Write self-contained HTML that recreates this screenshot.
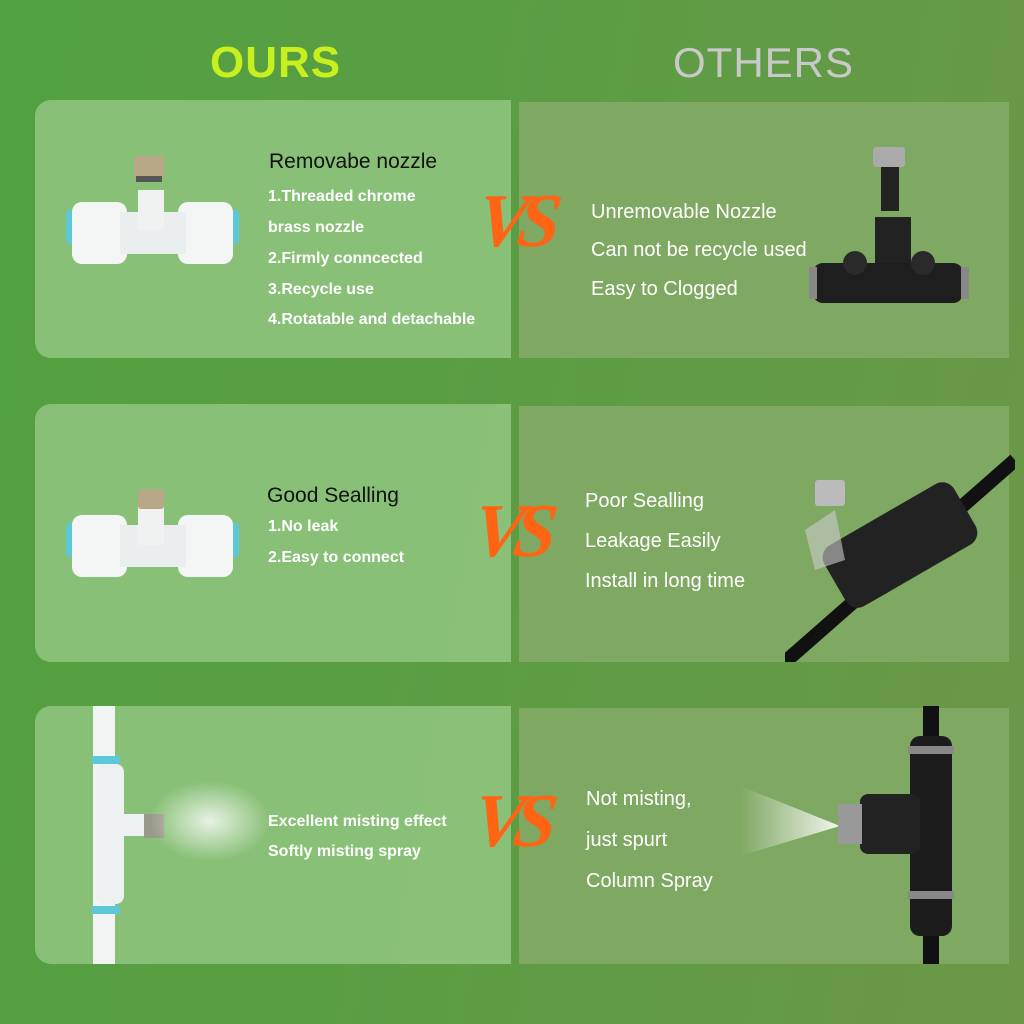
<!DOCTYPE html>
<html><head><meta charset="utf-8"><style>
*{margin:0;padding:0;box-sizing:border-box}
body{width:1024px;height:1024px;overflow:hidden;position:relative;font-family:"Liberation Sans",sans-serif;
background:linear-gradient(100deg,#52a040 0%,#5c9d44 50%,#6c9748 100%)}
.a{position:absolute}
.lp{position:absolute;left:35px;width:476px;height:258px;background:#8cc27a;border-radius:16px 0 0 16px;opacity:.95}
.rp{position:absolute;left:519px;width:490px;height:256px;background:#7fa862}
.h{position:absolute;font-weight:bold;font-size:44px;letter-spacing:1px}
.t{position:absolute;color:#fff;font-weight:bold;font-size:16px;white-space:nowrap}
.tt{position:absolute;color:#111;font-size:21px;white-space:nowrap}
.r{position:absolute;color:#fff;font-size:20px;white-space:nowrap}
.vs{position:absolute;color:#ff6414;font-size:76px;font-weight:bold;font-style:italic;font-family:"Liberation Serif",serif;letter-spacing:-10px;transform:skewX(-8deg)}
</style></head><body>
<div class="h" style="left:210px;top:38px;color:#c8f01e">OURS</div>
<div class="h" style="left:673px;top:39px;color:#c9c9c9;font-weight:normal;font-size:42px">OTHERS</div>

<div class="lp" style="top:100px"></div><div class="rp" style="top:102px"></div>
<div class="lp" style="top:404px"></div><div class="rp" style="top:406px"></div>
<div class="lp" style="top:706px"></div><div class="rp" style="top:708px"></div>

<svg class="a" style="left:60px;top:150px" width="185" height="125">
<rect x="6" y="60" width="12" height="34" rx="4" fill="#5cc8d8"/><rect x="167" y="60" width="12" height="34" rx="4" fill="#5cc8d8"/>
<rect x="12" y="52" width="55" height="62" rx="10" fill="#f4f6f6"/><rect x="118" y="52" width="55" height="62" rx="10" fill="#f4f6f6"/>
<rect x="60" y="62" width="66" height="42" fill="#eaeeee"/><rect x="78" y="40" width="26" height="40" fill="#f0f2f2"/>
<rect x="74" y="6" width="30" height="22" rx="3" fill="#b8a888"/><rect x="76" y="26" width="26" height="6" fill="#555"/>
</svg>
<svg class="a" style="left:60px;top:485px" width="185" height="95">
<rect x="6" y="38" width="12" height="34" rx="4" fill="#5cc8d8"/><rect x="167" y="38" width="12" height="34" rx="4" fill="#5cc8d8"/>
<rect x="12" y="30" width="55" height="62" rx="10" fill="#f4f6f6"/><rect x="118" y="30" width="55" height="62" rx="10" fill="#f4f6f6"/>
<rect x="60" y="40" width="66" height="42" fill="#eaeeee"/><rect x="78" y="20" width="26" height="40" fill="#f0f2f2"/>
<rect x="78" y="4" width="26" height="20" rx="3" fill="#b8a888"/>
</svg>
<svg class="a" style="left:60px;top:706px" width="230" height="258">
<defs><radialGradient id="m"><stop offset="0" stop-color="#fff" stop-opacity=".8"/><stop offset="1" stop-color="#fff" stop-opacity="0"/></radialGradient></defs>
<rect x="33" y="0" width="22" height="258" fill="#f2f4f4"/>
<rect x="32" y="50" width="28" height="8" fill="#5cc8d8"/><rect x="32" y="200" width="28" height="8" fill="#5cc8d8"/>
<rect x="36" y="58" width="28" height="140" rx="8" fill="#eef1f1"/><rect x="60" y="108" width="28" height="22" fill="#eef1f1"/>
<rect x="84" y="108" width="20" height="24" fill="#9a9a8a"/>
<ellipse cx="150" cy="115" rx="60" ry="40" fill="url(#m)"/>
</svg>

<svg class="a" style="left:805px;top:145px" width="170" height="170">
<rect x="68" y="2" width="32" height="20" rx="3" fill="#aaa"/><rect x="76" y="22" width="18" height="44" fill="#222"/>
<rect x="70" y="72" width="36" height="70" fill="#222"/><rect x="8" y="118" width="150" height="40" rx="10" fill="#1e1e1e"/>
<circle cx="50" cy="118" r="12" fill="#2a2a2a"/><circle cx="118" cy="118" r="12" fill="#2a2a2a"/>
<rect x="4" y="122" width="8" height="32" fill="#888"/><rect x="156" y="122" width="8" height="32" fill="#888"/>
</svg>
<svg class="a" style="left:785px;top:450px" width="230" height="212">
<path d="M0 212 L230 10" stroke="#111" stroke-width="14"/>
<rect x="40" y="60" width="150" height="70" rx="14" fill="#222" transform="rotate(-30 115 95)"/>
<rect x="30" y="30" width="30" height="26" rx="3" fill="#bbb"/>
<path d="M20 80 L50 60 L60 110 L30 120Z" fill="#ccc" opacity=".6"/>
</svg>
<svg class="a" style="left:740px;top:706px" width="240" height="258">
<defs><linearGradient id="s" x1="1" x2="0"><stop offset="0" stop-color="#fff" stop-opacity=".9"/><stop offset="1" stop-color="#fff" stop-opacity="0"/></linearGradient></defs>
<path d="M100 120 L0 80 L0 150Z" fill="url(#s)"/>
<rect x="183" y="0" width="16" height="258" fill="#111"/>
<rect x="170" y="30" width="42" height="200" rx="10" fill="#1c1c1c"/>
<rect x="120" y="88" width="60" height="60" rx="8" fill="#222"/>
<rect x="98" y="98" width="24" height="40" fill="#999"/>
<rect x="168" y="40" width="46" height="8" fill="#888"/><rect x="168" y="185" width="46" height="8" fill="#888"/>
</svg>

<div class="vs" style="left:478px;top:178px">VS</div>
<div class="vs" style="left:474px;top:488px">VS</div>
<div class="vs" style="left:474px;top:778px">VS</div>

<div class="tt" style="left:269px;top:150px">Removabe nozzle</div>
<div class="t" style="left:268px;top:188px">1.Threaded chrome</div>
<div class="t" style="left:268px;top:219px">brass nozzle</div>
<div class="t" style="left:268px;top:250px">2.Firmly conncected</div>
<div class="t" style="left:268px;top:281px">3.Recycle use</div>
<div class="t" style="left:268px;top:311px">4.Rotatable and detachable</div>
<div class="r" style="left:591px;top:201px">Unremovable Nozzle</div>
<div class="r" style="left:591px;top:239px">Can not be recycle used</div>
<div class="r" style="left:591px;top:278px">Easy to Clogged</div>
<div class="tt" style="left:267px;top:484px">Good Sealling</div>
<div class="t" style="left:268px;top:518px">1.No leak</div>
<div class="t" style="left:268px;top:549px">2.Easy to connect</div>
<div class="r" style="left:585px;top:490px">Poor Sealling</div>
<div class="r" style="left:585px;top:530px">Leakage Easily</div>
<div class="r" style="left:585px;top:570px">Install in long time</div>
<div class="t" style="left:268px;top:813px">Excellent misting effect</div>
<div class="t" style="left:268px;top:843px">Softly misting spray</div>
<div class="r" style="left:586px;top:788px">Not misting,</div>
<div class="r" style="left:586px;top:829px">just spurt</div>
<div class="r" style="left:586px;top:870px">Column Spray</div>
</body></html>
